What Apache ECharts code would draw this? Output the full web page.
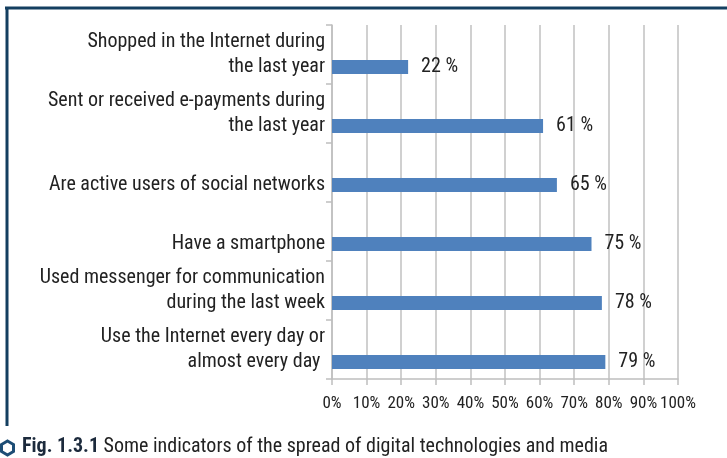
<!DOCTYPE html>
<html>
<head>
<meta charset="utf-8">
<script src="https://cdn.jsdelivr.net/npm/echarts@6/dist/echarts.min.js"></script>
<style>
  html, body { margin: 0; padding: 0; background: #fff; }
  #chart { width: 727px; height: 458px; }
</style>
</head>
<body>
<div id="chart"></div>
<script>
// categories, top to bottom
const categories = [
  'Shopped in the Internet during\nthe last year',
  'Sent or received e-payments during\nthe last year',
  'Are active users of social networks',
  'Have a smartphone',
  'Used messenger for communication\nduring the last week',
  'Use the Internet every day or\nalmost every day '
]
const shares = [22, 61, 65, 75, 78, 79]
const xTicks = [0, 10, 20, 30, 40, 50, 60, 70, 80, 90, 100]

const FONT = "'Roboto Condensed', 'DejaVu Sans Condensed', sans-serif"
const frameColor = '#143f60'

const chart = echarts.init(document.getElementById('chart'))

const option = {
  animation: false,
  backgroundColor: '#fff',
  textStyle: { fontFamily: FONT },
  grid: { left: 332, right: 49, top: 25, bottom: 79, containLabel: false, outerBoundsMode: 'none' },
  xAxis: {
    type: 'value',
    min: xTicks[0],
    max: xTicks[xTicks.length - 1],
    interval: 10,
    axisLine: { show: true, lineStyle: { color: '#bfbfbf', width: 1.5 } },
    axisTick: { show: true, length: 6, lineStyle: { color: '#bfbfbf', width: 1.5 } },
    splitLine: { show: true, lineStyle: { color: '#d0d0d0', width: 2 } },
    axisLabel: {
      color: '#222',
      fontSize: 17,
      fontFamily: FONT,
      margin: 16,
      showMinLabel: true,
      showMaxLabel: true,
      hideOverlap: false,
      formatter: '{value}%'
    }
  },
  yAxis: {
    type: 'category',
    inverse: true,
    data: categories,
    axisLine: { show: true, lineStyle: { color: '#bfbfbf', width: 1.5 } },
    axisTick: { show: true, length: 6, lineStyle: { color: '#bfbfbf', width: 1.5 } },
    axisLabel: {
      color: '#222',
      fontSize: 20,
      fontFamily: FONT,
      lineHeight: 25,
      margin: 7,
      align: 'right',
      // single-line labels sit level with their bar, like the original
      formatter: (v) => v.indexOf('\n') < 0 ? '\n' + v : v
    }
  },
  series: [
    {
      // empty partner series, pushes the visible bar to the lower half of each band
      type: 'bar',
      data: categories.map(() => null),
      barWidth: 14,
      barGap: '78%',
      silent: true
    },
    {
      type: 'bar',
      data: shares,
      barWidth: 14,
      barGap: '78%',
      itemStyle: { color: '#4f81bd' },
      label: {
        show: true,
        position: 'right',
        distance: 13,
        color: '#222',
        fontSize: 20,
        fontFamily: FONT,
        formatter: (p) => p.value + ' %'
      }
    }
  ],
  graphic: [
    {
      type: 'line',
      shape: { x1: 5, y1: 8, x2: 727, y2: 8 },
      style: { stroke: frameColor, lineWidth: 3 }
    },
    {
      type: 'line',
      shape: { x1: 7, y1: 7, x2: 7, y2: 426 },
      style: { stroke: frameColor, lineWidth: 3 }
    },
    {
      type: 'polygon',
      shape: { points: [[7.5, 441], [13.5, 444.5], [13.5, 451.5], [7.5, 455], [1.5, 451.5], [1.5, 444.5]] },
      style: { fill: 'none', stroke: '#1d4d75', lineWidth: 3 }
    },
    {
      type: 'text',
      left: 22,
      top: 437,
      style: {
        text: '{b|Fig. 1.3.1} Some indicators of the spread of digital technologies and media',
        font: '20px ' + FONT,
        fill: '#222',
        rich: {
          b: { fontWeight: 'bold', fontSize: 20, fontFamily: FONT, fill: '#1c2a3c' }
        }
      }
    }
  ]
}

chart.setOption(option)
</script>
</body>
</html>
